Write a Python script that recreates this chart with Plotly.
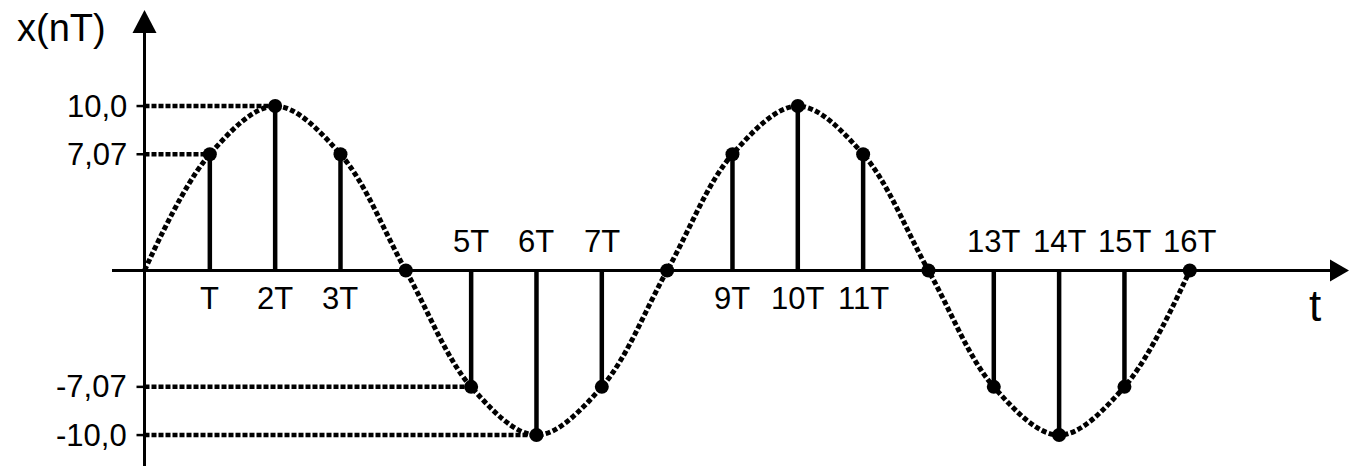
import plotly.graph_objects as go

# Samples of x(nT) for n = 0..16
n_index = list(range(17))
x_values = [0, 7.07, 10.0, 7.07, 0, -7.07, -10.0, -7.07, 0,
            7.07, 10.0, 7.07, 0, -7.07, -10.0, -7.07, 0]
sample_labels = ["", "T", "2T", "3T", "", "5T", "6T", "7T", "",
                 "9T", "10T", "11T", "", "13T", "14T", "15T", "16T"]

# Labelled levels on the vertical axis
level_values = [10.0, 7.07, -7.07, -10.0]
level_labels = ["10,0", "7,07", "-7,07", "-10,0"]

FONT = "Arial, Liberation Sans, sans-serif"
BLACK = "#000000"

fig = go.Figure()

# Dashed guides from the axis to the first sample at each level
for v in level_values:
    n_hit = next(i for i, val in zip(n_index, x_values) if val == v)
    fig.add_trace(go.Scatter(
        x=[0, n_hit], y=[v, v], mode="lines",
        line=dict(color=BLACK, width=4.5, dash="5px,2px"),
        hoverinfo="skip", showlegend=False))

# Continuous signal through the samples (dotted)
fig.add_trace(go.Scatter(
    x=n_index, y=x_values, mode="lines",
    line=dict(color=BLACK, width=5, dash="5px,2.5px", shape="spline", smoothing=1.0),
    hoverinfo="skip", showlegend=False))

# Stems
stem_x, stem_y = [], []
for n, v in zip(n_index, x_values):
    stem_x += [n, n, None]
    stem_y += [0, v, None]
fig.add_trace(go.Scatter(
    x=stem_x, y=stem_y, mode="lines",
    line=dict(color=BLACK, width=4.5),
    hoverinfo="skip", showlegend=False))

# Sample dots (n >= 1)
fig.add_trace(go.Scatter(
    x=n_index[1:], y=x_values[1:], mode="markers",
    marker=dict(color=BLACK, size=14),
    hoverinfo="skip", showlegend=False))

annotations = []
# Sample labels: below the axis for positive samples, above otherwise
for n, v, lab in zip(n_index, x_values, sample_labels):
    if not lab:
        continue
    annotations.append(dict(
        x=n, y=0, xref="x", yref="y", text=lab, showarrow=False,
        xanchor="center", yanchor="middle",
        yshift=-28 if v > 0 else 29,
        font=dict(family=FONT, size=31, color=BLACK)))

# Level labels and tick marks on the vertical axis
shapes = []
for v, lab in zip(level_values, level_labels):
    annotations.append(dict(
        x=0, y=v, xref="x", yref="y", text=lab, showarrow=False,
        xanchor="right", yanchor="middle", xshift=-16,
        font=dict(family=FONT, size=31, color=BLACK)))
    shapes.append(dict(
        type="line", xref="x", yref="y", xsizemode="pixel", xanchor=0,
        x0=-8, x1=0, y0=v, y1=v, line=dict(color=BLACK, width=2.5)))

# Axis titles
annotations.append(dict(
    x=0, y=1, xref="x", yref="paper", text="x(nT)", showarrow=False,
    xanchor="center", yanchor="middle", xshift=-83, yshift=5,
    font=dict(family=FONT, size=38, color=BLACK)))
annotations.append(dict(
    x=1, y=0, xref="paper", yref="y", text="t", showarrow=False,
    xanchor="center", yanchor="middle", xshift=-17, yshift=-35,
    font=dict(family=FONT, size=44, color=BLACK)))

# Arrow heads at the ends of both axes
shapes.append(dict(
    type="path", xref="x", yref="paper",
    xsizemode="pixel", xanchor=0, ysizemode="pixel", yanchor=1,
    path="M -12,0 L 12,0 L 0,23 Z",
    fillcolor=BLACK, line=dict(color=BLACK, width=0)))
shapes.append(dict(
    type="path", xref="paper", yref="y",
    xsizemode="pixel", xanchor=1, ysizemode="pixel", yanchor=0,
    path="M -2,11 L -2,-11 L 17,0 Z",
    fillcolor=BLACK, line=dict(color=BLACK, width=0)))

fig.update_layout(
    width=1349, height=466,
    margin=dict(l=112, r=17, t=33, b=0),
    paper_bgcolor="white", plot_bgcolor="white",
    showlegend=False,
    annotations=annotations, shapes=shapes,
    xaxis=dict(range=[-0.4975, 18.177], showgrid=False, showticklabels=False,
               ticks="", zeroline=True, zerolinecolor=BLACK, zerolinewidth=2.5,
               showline=False, fixedrange=True),
    yaxis=dict(range=[-11.88, 14.44], showgrid=False, showticklabels=False,
               ticks="", zeroline=True, zerolinecolor=BLACK, zerolinewidth=2.5,
               showline=False, fixedrange=True),
)

fig.write_html("out.html", config={"displayModeBar": False})
